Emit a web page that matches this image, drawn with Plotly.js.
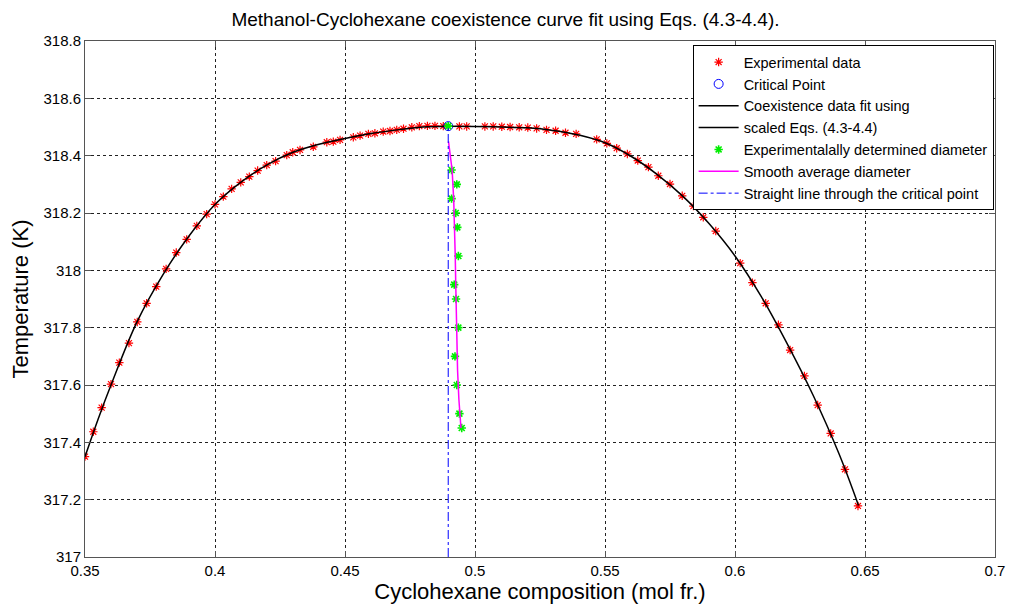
<!DOCTYPE html>
<html>
<head>
<meta charset="utf-8">
<script src="https://cdn.plot.ly/plotly-3.0.1.min.js"></script>
<style>html,body{margin:0;padding:0;background:#fff;}#chart{width:1011px;height:606px;}</style>
</head>
<body>
<div id="chart"></div>
<script>
// Experimental coexistence data
const expX = [0.3500,0.3532,0.3564,0.3600,0.3632,0.3669,0.3701,0.3737,0.3774,0.3812,0.3851,0.3891,0.3930,0.3968,0.4000,0.4032,0.4064,0.4099,0.4132,0.4164,0.4199,0.4233,0.4276,0.4299,0.4327,0.4378,0.4430,0.4455,0.4481,0.4532,0.4558,0.4590,0.4615,0.4647,0.4673,0.4699,0.4725,0.4757,0.4786,0.4817,0.4846,0.4878,
  0.4940,0.4968,0.5038,0.5070,0.5103,0.5135,0.5170,0.5203,0.5237,0.5275,0.5310,0.5348,0.5389,0.5468,0.5507,0.5545,0.5586,0.5626,0.5667,0.5705,0.5750,0.5797,0.5840,0.5878,0.5926,0.6020,0.6067,0.6118,0.6167,0.6212,0.6267,0.6318,0.6368,0.6423,0.6473];
const expT = [317.350,317.437,317.521,317.603,317.678,317.746,317.820,317.885,317.943,318.005,318.062,318.108,318.155,318.196,318.230,318.257,318.284,318.307,318.327,318.348,318.367,318.381,318.402,318.412,318.420,318.431,318.447,318.449,318.455,318.464,318.470,318.476,318.478,318.484,318.486,318.490,318.494,318.499,318.503,318.504,318.504,318.503,
  318.502,318.502,318.502,318.502,318.501,318.500,318.499,318.498,318.495,318.490,318.487,318.480,318.476,318.457,318.443,318.426,318.406,318.383,318.360,318.330,318.301,318.260,318.224,318.185,318.137,318.025,317.957,317.885,317.810,317.722,317.632,317.530,317.431,317.306,317.178];

// Critical point
const critX = [0.4897];
const critT = [318.503];

// Fit curves (two branches)
const fitLeftX = [0.350,0.355,0.360,0.370,0.380,0.390,0.400,0.410,0.420,0.430,0.440,0.450,0.460,0.470,0.480,0.4897];
const fitLeftT = [317.350,317.480,317.600,317.820,317.985,318.120,318.230,318.308,318.368,318.412,318.440,318.460,318.477,318.490,318.500,318.503];
const fitRightX = [0.4897,0.500,0.510,0.520,0.530,0.540,0.550,0.560,0.570,0.580,0.590,0.600,0.610,0.620,0.630,0.640,0.6475];
const fitRightT = [318.503,318.502,318.500,318.497,318.488,318.472,318.445,318.398,318.335,318.258,318.163,318.050,317.910,317.745,317.565,317.360,317.180];

// Experimentally determined diameter
const diaX = [0.4897,0.4910,0.4930,0.4910,0.4926,0.4932,0.4936,0.4920,0.4927,0.4936,0.4923,0.4930,0.4940,0.4949];
const diaT = [318.503,318.35,318.30,318.25,318.20,318.15,318.05,317.95,317.90,317.80,317.70,317.60,317.50,317.45];

// Smooth average diameter
const smoothX = [0.4898,0.4912,0.4918,0.4922,0.4924,0.4926,0.4928,0.4929,0.4933,0.4938,0.4946];
const smoothT = [318.45,318.35,318.25,318.15,318.05,317.95,317.85,317.75,317.65,317.55,317.45];

// Straight line through the critical point
const lineX = [0.4897,0.4897];
const lineT = [317.0,318.503];

const xTicks = [0.35,0.4,0.45,0.5,0.55,0.6,0.65,0.7];
const xTickText = ['0.35','0.4','0.45','0.5','0.55','0.6','0.65','0.7'];
const yTicks = [317,317.2,317.4,317.6,317.8,318,318.2,318.4,318.6,318.8];
const yTickText = ['317','317.2','317.4','317.6','317.8','318','318.2','318.4','318.6','318.8'];

const traces = [
  {x: expX, y: expT, mode: 'markers', name: 'Experimental data',
   marker: {symbol: 'asterisk-open', size: 7, color: 'red', line: {color: 'red', width: 1.2}}},
  {x: critX, y: critT, mode: 'markers', name: 'Critical Point',
   marker: {symbol: 'circle-open', size: 9, color: 'blue', line: {color: 'blue', width: 1}}},
  {x: fitLeftX, y: fitLeftT, mode: 'lines', name: 'Coexistence data fit using',
   line: {color: 'black', width: 1.5, shape: 'spline'}},
  {x: fitRightX, y: fitRightT, mode: 'lines', name: 'scaled Eqs. (4.3-4.4)',
   line: {color: 'black', width: 1.5, shape: 'spline'}},
  {x: diaX, y: diaT, mode: 'markers', name: 'Experimentalally determined diameter',
   marker: {symbol: 'asterisk-open', size: 7, color: '#00ee00', line: {color: '#00ee00', width: 1.6}}},
  {x: smoothX, y: smoothT, mode: 'lines', name: 'Smooth average diameter',
   line: {color: '#ff00ff', width: 1.5}},
  {x: lineX, y: lineT, mode: 'lines', name: 'Straight line through the critical point',
   line: {color: 'blue', width: 1, dash: 'dashdot'}}
];

const axisCommon = {
  showline: true, linecolor: '#555', linewidth: 1, mirror: 'ticks',
  ticks: 'inside', ticklen: 6, tickcolor: '#555',
  showgrid: true, gridcolor: '#222', griddash: 'dot', gridwidth: 1,
  zeroline: false, tickfont: {family: 'Liberation Sans, Arial, sans-serif', size: 15, color: '#000'}
};

const layout = {
  width: 1011, height: 606,
  margin: {l: 85, r: 16, t: 41, b: 49},
  paper_bgcolor: '#fff', plot_bgcolor: '#fff',
  font: {family: 'Liberation Sans, Arial, sans-serif', color: '#000'},
  title: {text: 'Methanol-Cyclohexane coexistence curve fit using Eqs. (4.3-4.4).',
          font: {size: 19, color: '#000'}, x: 0.5, xanchor: 'center', y: 0.968, yref: 'container', yanchor: 'middle'},
  xaxis: Object.assign({}, axisCommon, {
    range: [0.35, 0.7], tickvals: xTicks, ticktext: xTickText,
    title: {text: 'Cyclohexane composition (mol fr.)', font: {size: 22}, standoff: 2}
  }),
  yaxis: Object.assign({}, axisCommon, {
    range: [317, 318.8], tickvals: yTicks, ticktext: yTickText,
    title: {text: 'Temperature (K)', font: {size: 22}, standoff: 8}
  }),
  showlegend: true,
  legend: {x: 0.9985, xanchor: 'right', y: 0.992, yanchor: 'top',
           bgcolor: '#fff', bordercolor: '#000', borderwidth: 1,
           font: {size: 14.5, color: '#000'}, tracegroupgap: 0, itemwidth: 40}
};

Plotly.newPlot('chart', traces, layout, {displayModeBar: false, staticPlot: true});
</script>
</body>
</html>
